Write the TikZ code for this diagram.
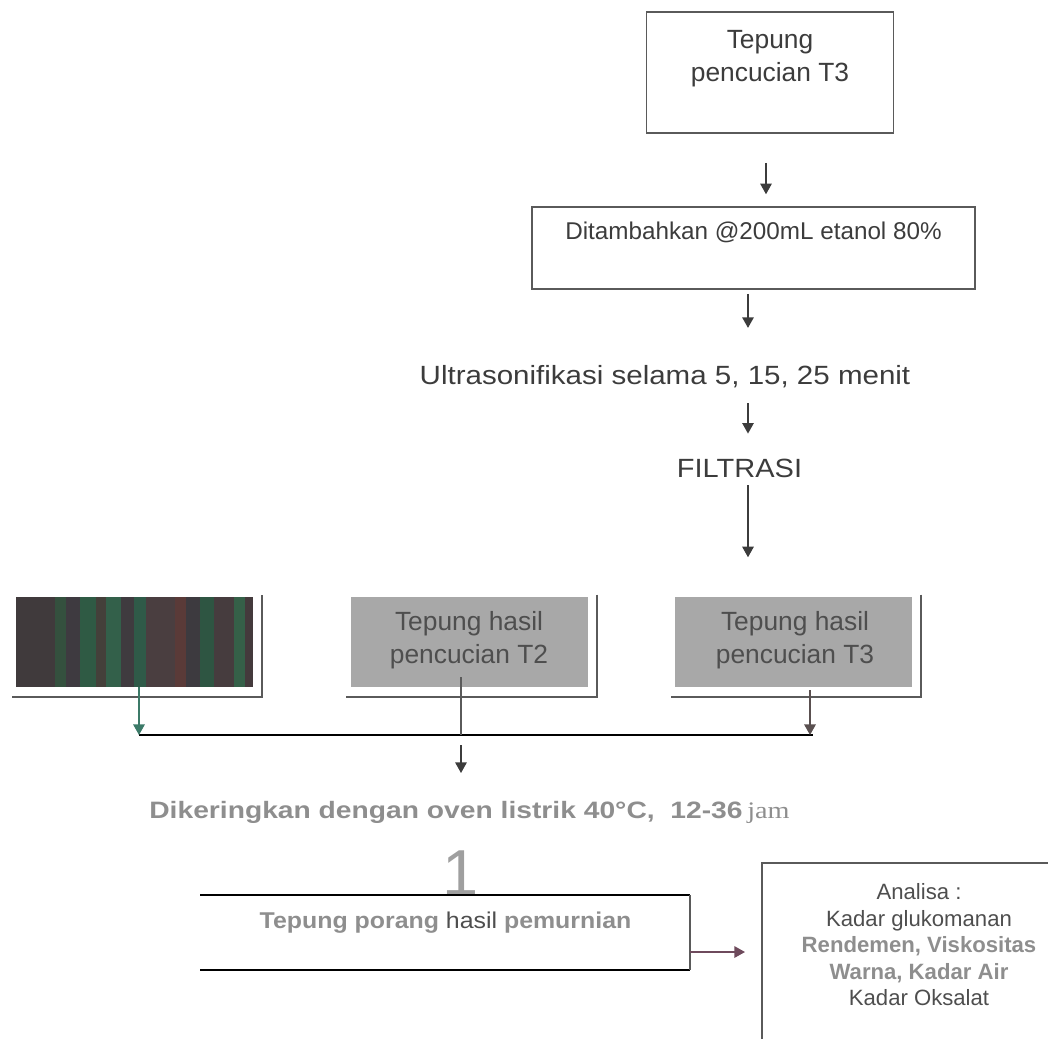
\documentclass[tikz,border=0pt]{standalone}
\usepackage{fontspec}
\usepackage{graphicx}
\setmainfont{Liberation Sans}
\newfontfamily\seriff{Liberation Serif}
\usetikzlibrary{arrows.meta,calc}
\definecolor{ink}{HTML}{3C3C3C}
\definecolor{frame}{HTML}{5A5A5A}
\definecolor{boxgray}{HTML}{A8A8A8}
\definecolor{boxtext}{HTML}{4E4E4E}
\definecolor{lightink}{HTML}{8E8E8E}
\definecolor{greenarr}{HTML}{3C7A68}
\definecolor{redarr}{HTML}{6E4A5C}
\definecolor{brownarr}{HTML}{5A5050}
\begin{document}
\begin{tikzpicture}[x=0.02cm,y=-0.02cm,
  flowbox/.style={draw=frame,line width=0.85pt,inner sep=0pt},
  plain/.style={inner sep=0pt,outer sep=0pt},
  grbox/.style={fill=boxgray,inner sep=0pt,minimum width={237*0.02cm},minimum height={90*0.02cm}},
  shadowline/.style={draw=frame,line width=1.2pt},
  arr/.style={draw=ink,line width=0.8pt,-{Triangle[length=6pt,width=6.5pt]}},
  txtA/.style={inner sep=0pt,text=ink,font=\fontsize{15}{18.7}\selectfont,align=center},
]
\useasboundingbox (0,0) rectangle (1048,1038);

% top boxes
\node[flowbox,minimum width={247*0.02cm},minimum height={121*0.02cm}] (b1) at (770,72.5) {};
\node[txtA,anchor=base] (b1t) at (770,81) {Tepung\\pencucian T3};

\node[flowbox,minimum width={443*0.02cm},minimum height={82*0.02cm}] (b2) at (753.5,248) {};
\node[plain,anchor=base,text=ink,font=\fontsize{13.8}{16}\selectfont] (b2t) at (753.5,239) {Ditambahkan @200mL etanol 80\%};

\node[plain,anchor=base,text=ink,font=\fontsize{15}{18}\selectfont] (ultra) at (665,384) {\scalebox{1.12}[1]{Ultrasonifikasi selama 5, 15, 25 menit}};
\node[plain,anchor=base,text=ink,font=\fontsize{15}{18}\selectfont] (filt) at (739.5,477) {\scalebox{1.1}[1]{FILTRASI}};

\coordinate (a1) at (766,0);
\coordinate (a2) at (748,0);
\draw[arr] (a1 |- b1.south) ++(0,29) -- ($(a1 |- b2.north)+(0,-12)$);
\draw[arr] ($(a2 |- b2.south)+(0,4)$) -- ($(a2 |- ultra.north)+(0,-37)$);
\draw[arr] ($(a2 |- ultra.south)+(0,16)$) -- ($(a2 |- filt.north)+(0,-25)$);
\draw[arr] ($(a2 |- filt.south)+(0,8)$) -- ($(a2 |- filt.south)+(0,80)$);

% three grey boxes
\node[plain,minimum width={237*0.02cm},minimum height={90*0.02cm}] (A) at (134.5,642) {};
\foreach \xa/\xb/\c in {16/55/403A3C,55/66/34503E,66/80/3E3A40,80/96/2F5A44,96/106/44403A,106/121/33604A,121/134/3F3B3F,134/146/2F5A48,146/175/4A3E40,175/186/5A3A38,186/200/3D3A3F,200/214/2E5542,214/234/463C3E,234/245/356048,245/253/443A3C}{
  \definecolor{stripe}{HTML}{\c}
  \fill[stripe] (\xa,597) rectangle (\xb,687);
}
\node[grbox] (B) at (469,642) {};
\node[grbox] (C) at (793.5,642) {};
\node[txtA,text=boxtext,anchor=base] (Bt) at (469,663) {Tepung hasil\\pencucian T2};
\node[txtA,text=boxtext,anchor=base] (Ct) at (795,663) {Tepung hasil\\pencucian T3};

\foreach \n in {A,B,C}{
  \draw[shadowline] ($(\n.north east)+(9,-2)$) -- ($(\n.south east)+(9,10)$) -- ($(\n.south west)+(-4,10)$);
}

% bus
\coordinate (busL) at (139,735);
\coordinate (busM) at (461,735);
\coordinate (busR) at (810,735);
\draw[black,line width=1.3pt] (busL) -- ($(busR)+(3,0)$);
\draw[draw=greenarr,line width=0.9pt,-{Triangle[length=6pt,width=6.5pt]}] (busL |- A.south) -- (busL);
\draw[draw=frame,line width=0.9pt] ($(busM |- B.south)+(0,-10)$) -- (busM);
\draw[draw=brownarr,line width=0.9pt,-{Triangle[length=6pt,width=6.5pt]}] ($(busR |- C.south)+(0,3)$) -- (busR);

% drying
\node[plain,anchor=base,text=lightink,font=\fontsize{13.5}{15}\selectfont\bfseries] (dry) at (469.5,818)
  {\scalebox{1.19}[1]{Dikeringkan dengan oven listrik 40\textdegree C,\ \ 12-36\,{\seriff\mdseries jam}}};
\draw[arr] ($(busM)+(0,10)$) -- ($(busM)+(0,38)$);

\node[plain,anchor=base,text=lightink!85!white,font=\fontsize{37}{40}\selectfont] (one) at (460.5,895) {1};

% product box
\node[plain,minimum width={490*0.02cm},minimum height={75*0.02cm}] (D) at (445,932.5) {};
\draw[black,line width=1.5pt] (D.north west) -- (D.north east);
\draw[black,line width=1.5pt] (D.south west) -- (D.south east);
\draw[draw=frame,line width=0.7pt] (D.north east) -- (D.south east);
\node[plain,anchor=base,text=lightink,font=\fontsize{13}{15}\selectfont\bfseries] (Dt) at (445.5,928)
  {\scalebox{1.09}[1]{Tepung porang {\color{boxtext}\mdseries hasil} pemurnian}};

% analysis box
\node[plain,minimum width={290*0.02cm},minimum height={180*0.02cm}] (E) at (907,953) {};
\draw[draw=frame,line width=0.8pt] (E.south west) -- (E.north west) -- (E.north east);
\node[plain,align=center,text=boxtext,font=\fontsize{12.6}{15.1}\selectfont] (Et) at (919,945)
  {Analisa :\\Kadar glukomanan\\{\color{lightink}\bfseries Rendemen, Viskositas}\\{\color{lightink}\bfseries Warna, Kadar Air}\\Kadar Oksalat};

\draw[draw=redarr,line width=0.8pt,-{Triangle[length=6pt,width=6.5pt]}] ([yshift={-19.5*0.02cm}]D.east) -- ([yshift={-19.5*0.02cm}]D.east -| E.west) [shorten >={17*0.02cm}];
\end{tikzpicture}
\end{document}
